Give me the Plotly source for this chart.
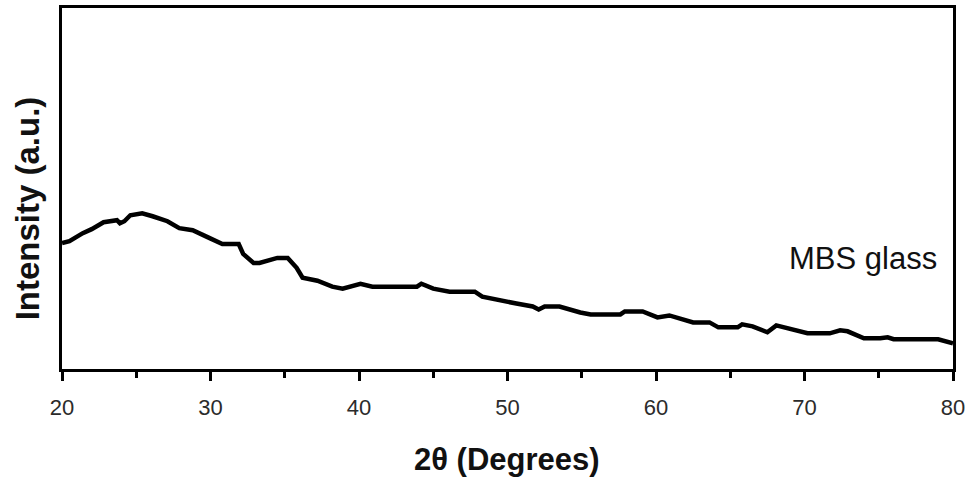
import plotly.graph_objects as go

two_theta = [20.0, 20.5, 21.4, 22.0, 22.8, 23.4, 23.7, 23.9, 24.2, 24.6, 25.4, 26.1, 27.1, 27.9,
             28.8, 29.8, 30.8, 31.9, 32.2, 32.9, 33.3, 34.5, 35.2, 35.8, 36.2, 37.2, 38.2, 38.9,
             39.5, 40.1, 40.9, 43.9, 44.2, 45.0, 46.1, 47.8, 48.3, 49.5, 50.6, 51.7, 52.1, 52.5,
             53.5, 54.9, 55.6, 57.6, 57.9, 59.1, 60.1, 60.9, 61.8, 62.5, 63.6, 64.2, 65.5, 65.8,
             66.5, 67.5, 68.1, 68.8, 70.2, 71.7, 72.4, 72.9, 74.0, 75.1, 75.6, 76.0, 79.0, 80.0]
pixel_read = [242, 240, 232, 228, 221, 219, 219, 222, 220, 214, 212, 215, 220, 227,
              229, 236, 243, 243, 253, 262, 262, 257, 257, 267, 277, 280, 286, 288,
              286, 283, 286, 286, 283, 288, 291, 291, 296, 300, 303, 306, 309, 306,
              306, 312, 314, 314, 311, 311, 317, 315, 319, 322, 322, 327, 327, 324,
              326, 332, 325, 328, 333, 333, 330, 331, 338, 338, 337, 339, 339, 343]
intensity = [369 - p for p in pixel_read]

x_ticks = [20, 30, 40, 50, 60, 70, 80]
x_title = "2θ (Degrees)"
y_title = "Intensity (a.u.)"
label = "MBS glass"

FONT = "Liberation Sans, Arial, sans-serif"

fig = go.Figure()
fig.add_trace(go.Scatter(x=two_theta, y=intensity, mode="lines",
                         line=dict(color="black", width=4.5), showlegend=False,
                         hoverinfo="skip"))

fig.update_layout(
    width=974, height=485,
    margin=dict(l=62, r=21, t=5, b=116),
    paper_bgcolor="white", plot_bgcolor="white",
    font=dict(family=FONT, color="#222"),
)
fig.update_xaxes(
    range=[20, 80], tickvals=x_ticks, ticktext=[str(v) for v in x_ticks],
    showgrid=False, zeroline=False,
    showline=True, linecolor="black", linewidth=2.5, mirror=True,
    ticks="outside", ticklen=9, tickwidth=2.5, tickcolor="black",
    tickfont=dict(size=22, color="#2b2b2b", family=FONT),
    ticklabelstandoff=8,
    minor=dict(tickvals=[25, 35, 45, 55, 65, 75], ticks="outside", ticklen=6,
               tickwidth=2.5, tickcolor="black", showgrid=False),
)
fig.update_yaxes(
    range=[0, 364], showticklabels=False, ticks="",
    showgrid=False, zeroline=False,
    showline=True, linecolor="black", linewidth=2.5, mirror=True,
)

fig.add_annotation(text=label, xref="paper", yref="paper", x=1.0, y=(369 - 258) / 364,
                   xshift=-14, xanchor="right", yanchor="middle", showarrow=False,
                   font=dict(size=31, color="#111", family=FONT))
fig.add_annotation(text="<b>" + x_title + "</b>", xref="paper", yref="paper",
                   x=(507 - 62) / 891, y=0, yshift=-90, xanchor="center", yanchor="middle",
                   showarrow=False, font=dict(size=31, color="#111", family=FONT))
fig.add_annotation(text="<b>" + y_title + "</b>", xref="paper", yref="paper",
                   x=0, xshift=-35, y=(369 - 207) / 364, textangle=-90,
                   xanchor="center", yanchor="middle",
                   showarrow=False, font=dict(size=33, color="#111", family=FONT))

fig.write_html("out.html")
